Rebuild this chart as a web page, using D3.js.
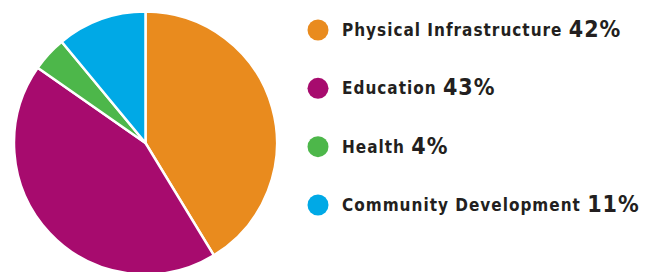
<!DOCTYPE html>
<html>
<head>
<meta charset="utf-8">
<script src="https://cdn.jsdelivr.net/npm/d3@7"></script>
<style>
  body { margin: 0; background: #fff; }
</style>
</head>
<body>
<div id="chart"></div>
<script>
const categories = ["Physical Infrastructure", "Education", "Health", "Community Development"];
// percentages printed in the legend
const labels = [42, 43, 4, 11];
const shares = [41.3, 43.4, 4.3, 11];
const colors = ["#E98B1E", "#A70B6E", "#4DB74A", "#00A9E6"];

const width = 658, height = 272;
const cx = 145.5, cy = 143, radius = 131.5;

const svg = d3.select("#chart")
  .append("svg")
  .attr("width", width)
  .attr("height", height);

const data = categories.map((c, i) => ({name: c, value: shares[i], label: labels[i], color: colors[i]}));

// pie
const pie = d3.pie().sort(null).value(d => d.value);
const arc = d3.arc().innerRadius(0).outerRadius(radius);

const g = svg.append("g")
  .attr("transform", `translate(${cx},${cy})`);

g.selectAll("path")
  .data(pie(data))
  .join("path")
  .attr("d", arc)
  .attr("fill", d => d.data.color)
  .attr("stroke", "#fff")
  .attr("stroke-width", 2.5);

// legend
const y = d3.scalePoint()
  .domain(categories)
  .range([30, 205]);

const legend = svg.append("g")
  .selectAll("g")
  .data(data)
  .join("g")
  .attr("transform", d => `translate(318,${y(d.name)})`);

legend.append("circle")
  .attr("r", 10.5)
  .attr("fill", d => d.color);

const txt = legend.append("text")
  .attr("x", 24)
  .attr("y", 6)
  .attr("fill", "#231f20")
  .style("font-family", "'DejaVu Sans Condensed', 'DejaVu Sans', sans-serif")
  .style("font-weight", "bold");

txt.append("tspan")
  .style("font-size", "17px")
  .style("letter-spacing", "1px")
  .text(d => d.name + " ");

txt.append("tspan")
  .style("font-size", "23px")
  .style("letter-spacing", "1px")
  .attr("dy", 1)
  .text(d => d.label + "%");
</script>
</body>
</html>
